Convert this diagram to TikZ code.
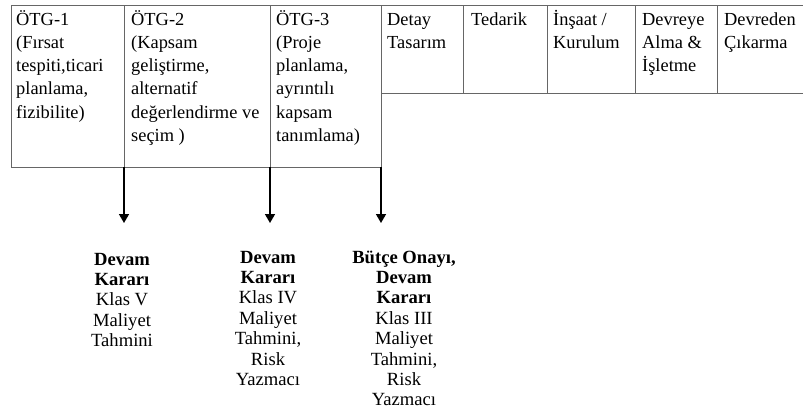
\documentclass[tikz,border=0pt]{standalone}
\usepackage{fontspec}
\setmainfont{Liberation Serif}
\usetikzlibrary{arrows.meta, positioning}

\tikzset{
  cell/.style={draw=black!60, line width=0.8pt, anchor=north west, inner sep=0pt, outer sep=0pt},
  celltext/.style={anchor=north west, inner sep=0pt, align=left, font=\fontsize{18.4}{23.3}\selectfont},
  decision/.style={anchor=north, inner sep=0pt, align=center, font=\fontsize{18.6}{20.4}\selectfont},
  gate/.style={line width=1.6pt, -{Triangle[width=10pt,length=9pt]}}
}

\begin{document}
\begin{tikzpicture}[x=1pt, y=-1pt]
\useasboundingbox (0,0) rectangle (803,412);

% Front-end stages (ÖTG)
\node[cell, minimum width=113pt, minimum height=162pt] (otg1) at (11,5) {};
\node[cell, minimum width=146pt, minimum height=162pt] (otg2) at (otg1.north east) {};
\node[cell, minimum width=111pt, minimum height=162pt] (otg3) at (otg2.north east) {};

% Execution stages
\node[cell, minimum width=82pt, minimum height=88pt] (detay) at (otg3.north east) {};
\node[cell, minimum width=84pt, minimum height=88pt] (tedarik) at (detay.north east) {};
\node[cell, minimum width=88pt, minimum height=88pt] (insaat) at (tedarik.north east) {};
\node[cell, minimum width=82pt, minimum height=88pt] (devreye) at (insaat.north east) {};
\node[cell, minimum width=92pt, minimum height=88pt] (devreden) at (devreye.north east) {};

% Cell texts
\node[celltext, below right=3.5pt and 5pt of otg1.north west] (t1) {\strut ÖTG-1\\(Fırsat\\tespiti,ticari\\planlama,\\fizibilite)};
\node[celltext, below right=3.5pt and 7pt of otg2.north west] (t2) {\strut ÖTG-2\\(Kapsam\\geliştirme,\\alternatif\\değerlendirme ve\\seçim )};
\node[celltext, below right=3.5pt and 6pt of otg3.north west] (t3) {\strut ÖTG-3\\(Proje\\planlama,\\ayrıntılı\\kapsam\\tanımlama)};
\node[celltext, below right=3.5pt and 6pt of detay.north west] (t4) {\strut Detay\\Tasarım};
\node[celltext, below right=3.5pt and 8pt of tedarik.north west] (t5) {\strut Tedarik};
\node[celltext, below right=3.5pt and 6pt of insaat.north west] (t6) {\strut İnşaat /\\Kurulum};
\node[celltext, below right=3.5pt and 7pt of devreye.north west] (t7) {\strut Devreye\\Alma \&\\İşletme};
\node[celltext, below right=3.5pt and 7pt of devreden.north west] (t8) {\strut Devreden\\Çıkarma};

% Gate arrows
\coordinate (tip1) at (124,223);
\coordinate (tip2) at (270,223);
\coordinate (tip3) at (381,223);
\draw[gate] (otg1.south east) -- (tip1);
\draw[gate] (otg2.south east) -- (tip2);
\draw[gate] (otg3.south east) -- (tip3);

% Gate decisions
\node[decision] (karar1) at (122,250.7) {\strut\textbf{Devam}\\\textbf{Kararı}\\Klas V\\Maliyet\\Tahmini};
\node[decision] (karar2) at (268,248.7) {\strut\textbf{Devam}\\\textbf{Kararı}\\Klas IV\\Maliyet\\Tahmini,\\Risk\\Yazmacı};
\node[decision] (karar3) at (404,248.7) {\strut\textbf{Bütçe Onayı,}\\\textbf{Devam}\\\textbf{Kararı}\\Klas III\\Maliyet\\Tahmini,\\Risk\\Yazmacı};
\end{tikzpicture}
\end{document}
